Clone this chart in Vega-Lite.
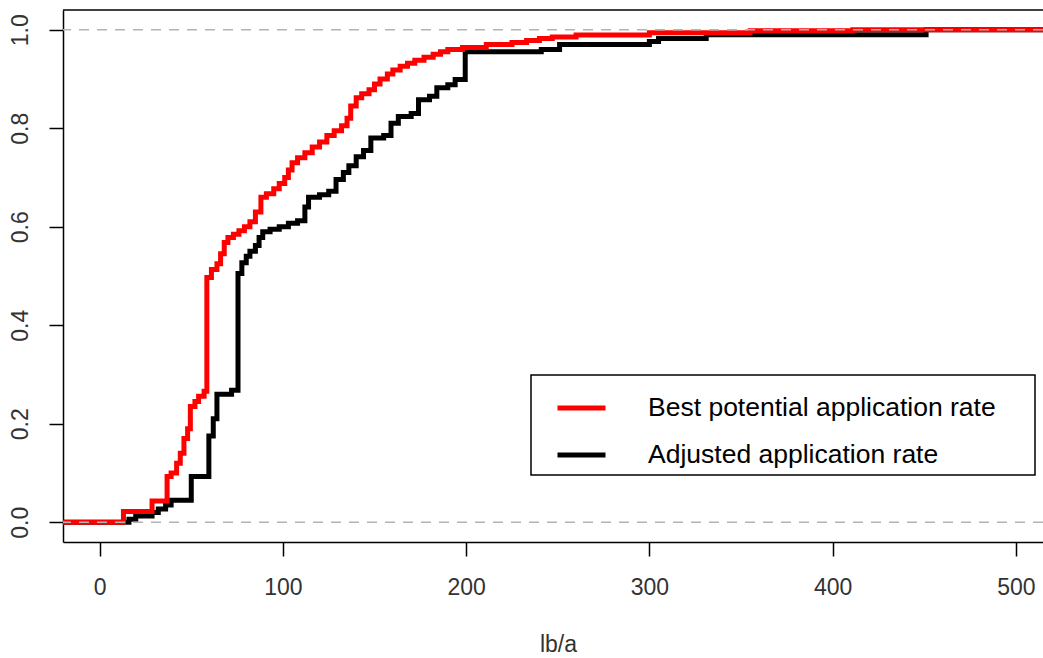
{
  "$schema": "https://vega.github.io/schema/vega-lite/v6.json",
  "width": 980,
  "height": 532,
  "autosize": {"type": "none"},
  "padding": {"left": 63, "top": 10, "right": 0, "bottom": 116},
  "background": "white",
  "config": {
    "view": {"stroke": null},
    "axis": {
      "grid": false,
      "domainColor": "#000000",
      "domainWidth": 1.5,
      "tickColor": "#000000",
      "tickWidth": 1.5,
      "tickSize": 14,
      "labelFont": "Liberation Sans",
      "labelFontSize": 23,
      "labelColor": "#333333",
      "labelOverlap": false,
      "labelFlush": false,
      "titleFont": "Liberation Sans",
      "titleFontSize": 23,
      "titleFontWeight": "normal",
      "titleColor": "#333333"
    },
    "legend": {
      "orient": "none",
      "legendX": 468,
      "legendY": 365,
      "strokeColor": "#000000",
      "strokeWidth": 1.5,
      "fillColor": "white",
      "padding": 6.5,
      "symbolType": "stroke",
      "symbolSize": 2304,
      "symbolStrokeWidth": 5,
      "symbolOffset": 17.5,
      "labelOffset": 40,
      "labelFont": "Liberation Sans",
      "labelFontSize": 26.5,
      "labelColor": "#000000",
      "labelLimit": 600,
      "rowPadding": 7,
      "titleOrient": "right",
      "titlePadding": 33,
      "titleFontSize": 26.5
    }
  },
  "datasets": {
    "ecdf": [
      {"series": "Best potential application rate", "x": -25, "y": 0},
      {"series": "Best potential application rate", "x": 13, "y": 0.022},
      {"series": "Best potential application rate", "x": 28.6, "y": 0.043},
      {"series": "Best potential application rate", "x": 36.8, "y": 0.093},
      {"series": "Best potential application rate", "x": 39, "y": 0.1},
      {"series": "Best potential application rate", "x": 42, "y": 0.12},
      {"series": "Best potential application rate", "x": 44, "y": 0.14},
      {"series": "Best potential application rate", "x": 46, "y": 0.17},
      {"series": "Best potential application rate", "x": 48, "y": 0.19},
      {"series": "Best potential application rate", "x": 49.5, "y": 0.235},
      {"series": "Best potential application rate", "x": 52, "y": 0.245},
      {"series": "Best potential application rate", "x": 54, "y": 0.256},
      {"series": "Best potential application rate", "x": 57, "y": 0.266},
      {"series": "Best potential application rate", "x": 58.5, "y": 0.497},
      {"series": "Best potential application rate", "x": 61, "y": 0.513},
      {"series": "Best potential application rate", "x": 64, "y": 0.525},
      {"series": "Best potential application rate", "x": 66, "y": 0.545},
      {"series": "Best potential application rate", "x": 68, "y": 0.568},
      {"series": "Best potential application rate", "x": 70, "y": 0.578},
      {"series": "Best potential application rate", "x": 73, "y": 0.585},
      {"series": "Best potential application rate", "x": 76, "y": 0.592},
      {"series": "Best potential application rate", "x": 79, "y": 0.6},
      {"series": "Best potential application rate", "x": 82, "y": 0.61},
      {"series": "Best potential application rate", "x": 85, "y": 0.63},
      {"series": "Best potential application rate", "x": 88, "y": 0.66},
      {"series": "Best potential application rate", "x": 91, "y": 0.667},
      {"series": "Best potential application rate", "x": 95, "y": 0.677},
      {"series": "Best potential application rate", "x": 98, "y": 0.688},
      {"series": "Best potential application rate", "x": 101, "y": 0.7},
      {"series": "Best potential application rate", "x": 103, "y": 0.715},
      {"series": "Best potential application rate", "x": 105, "y": 0.73},
      {"series": "Best potential application rate", "x": 108, "y": 0.74},
      {"series": "Best potential application rate", "x": 112, "y": 0.75},
      {"series": "Best potential application rate", "x": 116, "y": 0.762},
      {"series": "Best potential application rate", "x": 120, "y": 0.772},
      {"series": "Best potential application rate", "x": 124, "y": 0.785},
      {"series": "Best potential application rate", "x": 128, "y": 0.795},
      {"series": "Best potential application rate", "x": 132, "y": 0.805},
      {"series": "Best potential application rate", "x": 135, "y": 0.82},
      {"series": "Best potential application rate", "x": 137, "y": 0.845},
      {"series": "Best potential application rate", "x": 140, "y": 0.862},
      {"series": "Best potential application rate", "x": 143, "y": 0.87},
      {"series": "Best potential application rate", "x": 147, "y": 0.878},
      {"series": "Best potential application rate", "x": 150, "y": 0.89},
      {"series": "Best potential application rate", "x": 153, "y": 0.9},
      {"series": "Best potential application rate", "x": 157, "y": 0.91},
      {"series": "Best potential application rate", "x": 160, "y": 0.918},
      {"series": "Best potential application rate", "x": 164, "y": 0.926},
      {"series": "Best potential application rate", "x": 168, "y": 0.932},
      {"series": "Best potential application rate", "x": 172, "y": 0.938},
      {"series": "Best potential application rate", "x": 177, "y": 0.944},
      {"series": "Best potential application rate", "x": 182, "y": 0.95},
      {"series": "Best potential application rate", "x": 186, "y": 0.955},
      {"series": "Best potential application rate", "x": 190, "y": 0.96},
      {"series": "Best potential application rate", "x": 198, "y": 0.964},
      {"series": "Best potential application rate", "x": 211, "y": 0.97},
      {"series": "Best potential application rate", "x": 225, "y": 0.974},
      {"series": "Best potential application rate", "x": 233, "y": 0.978},
      {"series": "Best potential application rate", "x": 240, "y": 0.982},
      {"series": "Best potential application rate", "x": 247, "y": 0.985},
      {"series": "Best potential application rate", "x": 260, "y": 0.989},
      {"series": "Best potential application rate", "x": 300, "y": 0.994},
      {"series": "Best potential application rate", "x": 355, "y": 0.998},
      {"series": "Best potential application rate", "x": 411, "y": 1.0},
      {"series": "Best potential application rate", "x": 530, "y": 1.0},
      {"series": "Adjusted application rate", "x": -25, "y": 0},
      {"series": "Adjusted application rate", "x": 16, "y": 0.006},
      {"series": "Adjusted application rate", "x": 19.7, "y": 0.013},
      {"series": "Adjusted application rate", "x": 28.6, "y": 0.02},
      {"series": "Adjusted application rate", "x": 32, "y": 0.027},
      {"series": "Adjusted application rate", "x": 36, "y": 0.035},
      {"series": "Adjusted application rate", "x": 39, "y": 0.045},
      {"series": "Adjusted application rate", "x": 50, "y": 0.093},
      {"series": "Adjusted application rate", "x": 59.6, "y": 0.175},
      {"series": "Adjusted application rate", "x": 62, "y": 0.21},
      {"series": "Adjusted application rate", "x": 64, "y": 0.26},
      {"series": "Adjusted application rate", "x": 72, "y": 0.268},
      {"series": "Adjusted application rate", "x": 75.5, "y": 0.505},
      {"series": "Adjusted application rate", "x": 77.6, "y": 0.527},
      {"series": "Adjusted application rate", "x": 80, "y": 0.54},
      {"series": "Adjusted application rate", "x": 82, "y": 0.55},
      {"series": "Adjusted application rate", "x": 85, "y": 0.562},
      {"series": "Adjusted application rate", "x": 87, "y": 0.578},
      {"series": "Adjusted application rate", "x": 89, "y": 0.59},
      {"series": "Adjusted application rate", "x": 93, "y": 0.595},
      {"series": "Adjusted application rate", "x": 98, "y": 0.6},
      {"series": "Adjusted application rate", "x": 103, "y": 0.607},
      {"series": "Adjusted application rate", "x": 108, "y": 0.612},
      {"series": "Adjusted application rate", "x": 112, "y": 0.64},
      {"series": "Adjusted application rate", "x": 114, "y": 0.66},
      {"series": "Adjusted application rate", "x": 120, "y": 0.665},
      {"series": "Adjusted application rate", "x": 125, "y": 0.672},
      {"series": "Adjusted application rate", "x": 129, "y": 0.696},
      {"series": "Adjusted application rate", "x": 133, "y": 0.71},
      {"series": "Adjusted application rate", "x": 136, "y": 0.724},
      {"series": "Adjusted application rate", "x": 140, "y": 0.742},
      {"series": "Adjusted application rate", "x": 144, "y": 0.755},
      {"series": "Adjusted application rate", "x": 148, "y": 0.78},
      {"series": "Adjusted application rate", "x": 155, "y": 0.785},
      {"series": "Adjusted application rate", "x": 159, "y": 0.81},
      {"series": "Adjusted application rate", "x": 163, "y": 0.824},
      {"series": "Adjusted application rate", "x": 170, "y": 0.83},
      {"series": "Adjusted application rate", "x": 174, "y": 0.858},
      {"series": "Adjusted application rate", "x": 180, "y": 0.865},
      {"series": "Adjusted application rate", "x": 184, "y": 0.882},
      {"series": "Adjusted application rate", "x": 190, "y": 0.888},
      {"series": "Adjusted application rate", "x": 194, "y": 0.899},
      {"series": "Adjusted application rate", "x": 199.5, "y": 0.955},
      {"series": "Adjusted application rate", "x": 241, "y": 0.96},
      {"series": "Adjusted application rate", "x": 251, "y": 0.97},
      {"series": "Adjusted application rate", "x": 300, "y": 0.976},
      {"series": "Adjusted application rate", "x": 305, "y": 0.982},
      {"series": "Adjusted application rate", "x": 331, "y": 0.99},
      {"series": "Adjusted application rate", "x": 451, "y": 1.0},
      {"series": "Adjusted application rate", "x": 530, "y": 1.0}
    ],
    "refs": [{"level": 0}, {"level": 1}]
  },
  "layer": [
    {
      "data": {"name": "ecdf"},
      "transform": [{"filter": "datum.series === 'Adjusted application rate'"}],
      "mark": {"type": "line", "interpolate": "step-after", "strokeWidth": 5, "clip": true, "strokeCap": "butt", "strokeJoin": "miter"},
      "encoding": {
        "x": {"field": "x", "type": "quantitative", "scale": {"domain": [-20, 514.8], "nice": false, "zero": false},
          "axis": {"orient": "bottom", "values": [0, 100, 200, 300, 400, 500], "labelPadding": 20, "labelBaseline": "top", "title": "lb/a", "titleX": 495, "titleY": 109, "titleBaseline": "alphabetic", "titleAlign": "center"}},
        "y": {"field": "y", "type": "quantitative", "scale": {"domain": [-0.04, 1.04], "nice": false, "zero": false},
          "axis": {"orient": "left", "values": [0, 0.2, 0.4, 0.6, 0.8, 1.0], "format": ".1f", "labelAngle": 270, "labelAlign": "center", "labelBaseline": "alphabetic", "labelPadding": 22, "title": null}},
        "color": {"field": "series", "type": "nominal",
          "scale": {"domain": ["Best potential application rate", "Adjusted application rate"], "range": ["#ff0000", "#000000"]},
          "legend": {"title": " "}}
      }
    },
    {
      "data": {"name": "ecdf"},
      "transform": [{"filter": "datum.series === 'Best potential application rate'"}],
      "mark": {"type": "line", "interpolate": "step-after", "strokeWidth": 5, "clip": true, "strokeCap": "butt", "strokeJoin": "miter"},
      "encoding": {
        "x": {"field": "x", "type": "quantitative"},
        "y": {"field": "y", "type": "quantitative"},
        "color": {"field": "series", "type": "nominal"}
      }
    },
    {
      "data": {"name": "refs"},
      "mark": {"type": "rule", "color": "#b3b3b3", "strokeWidth": 1.5, "strokeDash": [10, 8]},
      "encoding": {"y": {"field": "level", "type": "quantitative"}}
    },
    {
      "data": {"values": [{}]},
      "mark": {"type": "rule", "color": "#000000", "strokeWidth": 1.5},
      "encoding": {"y": {"datum": 1.04}}
    }
  ]
}
